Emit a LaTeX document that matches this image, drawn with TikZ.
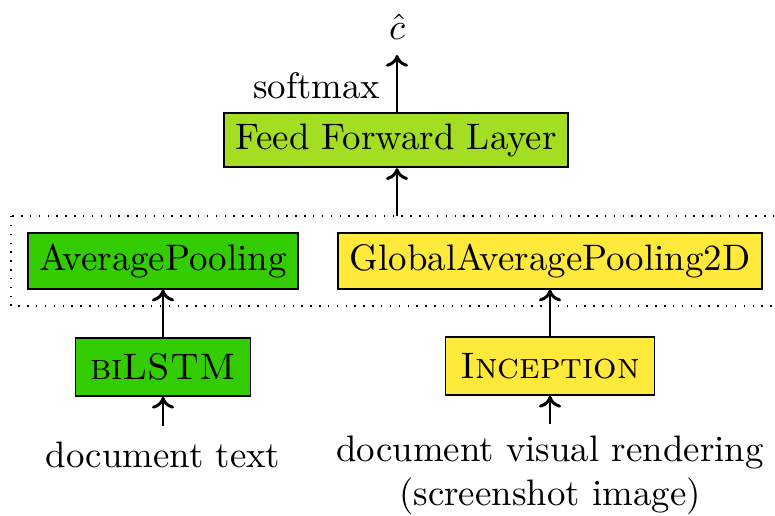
\documentclass[tikz,border=0pt]{standalone}
\usetikzlibrary{arrows.meta}
\definecolor{ffl}{RGB}{163,222,35}
\definecolor{grn}{RGB}{51,204,0}
\definecolor{yel}{RGB}{255,233,58}
\begin{document}
\begin{tikzpicture}[x=0.2713pt,y=-0.2713pt,
  box/.style={draw=black, line width=0.5pt, inner xsep=3.1pt, inner ysep=2.9pt, minimum height=14.65pt, anchor=center},
  lowbox/.style={box, inner xsep=4pt, minimum height=15.7pt},
  arr/.style={-{To[length=3.2pt,width=6pt]}, line width=0.8pt},
  lbl/.style={inner sep=0pt, anchor=center}]
\useasboundingbox (0,0) rectangle (775,515);
\draw[dotted, line width=0.4pt] (11,216) rectangle (776,306);
\node[box, fill=ffl] (ffl) at (396,140) {Feed Forward Layer};
\node[lbl] (chat) at (397,27) {$\hat{c}$};
\coordinate (ctip) at (397,55);
\node[lbl, anchor=east] (sm) at (381,86) {softmax};
\node[box, fill=grn] (avg) at (163,261) {AveragePooling};
\node[box, fill=yel] (gap) at (550,261) {GlobalAveragePooling2D};
\node[lowbox, fill=grn] (bil) at (163,367) {\textsc{biLSTM}};
\node[lowbox, fill=yel] (inc) at (550,366) {\textsc{Inception}};
\node[lbl] (dt) at (163,455) {document text};
\node[lbl, align=center] (dv) at (550,475) {document visual rendering\\[0pt](screenshot image)};
\coordinate (dtop) at (397,216);
\coordinate (dtup) at (163,426);
\coordinate (dvup) at (550,424);
\draw[arr] (ffl.north -| ctip) -- (ctip);
\draw[arr] (dtop) -- (ffl.south -| dtop);
\draw[arr] (bil.north) -- (avg.south);
\draw[arr] (inc.north) -- (gap.south -| inc.north);
\draw[arr] (dtup) -- (bil.south);
\draw[arr] (dvup) -- (inc.south);
\end{tikzpicture}
\end{document}
